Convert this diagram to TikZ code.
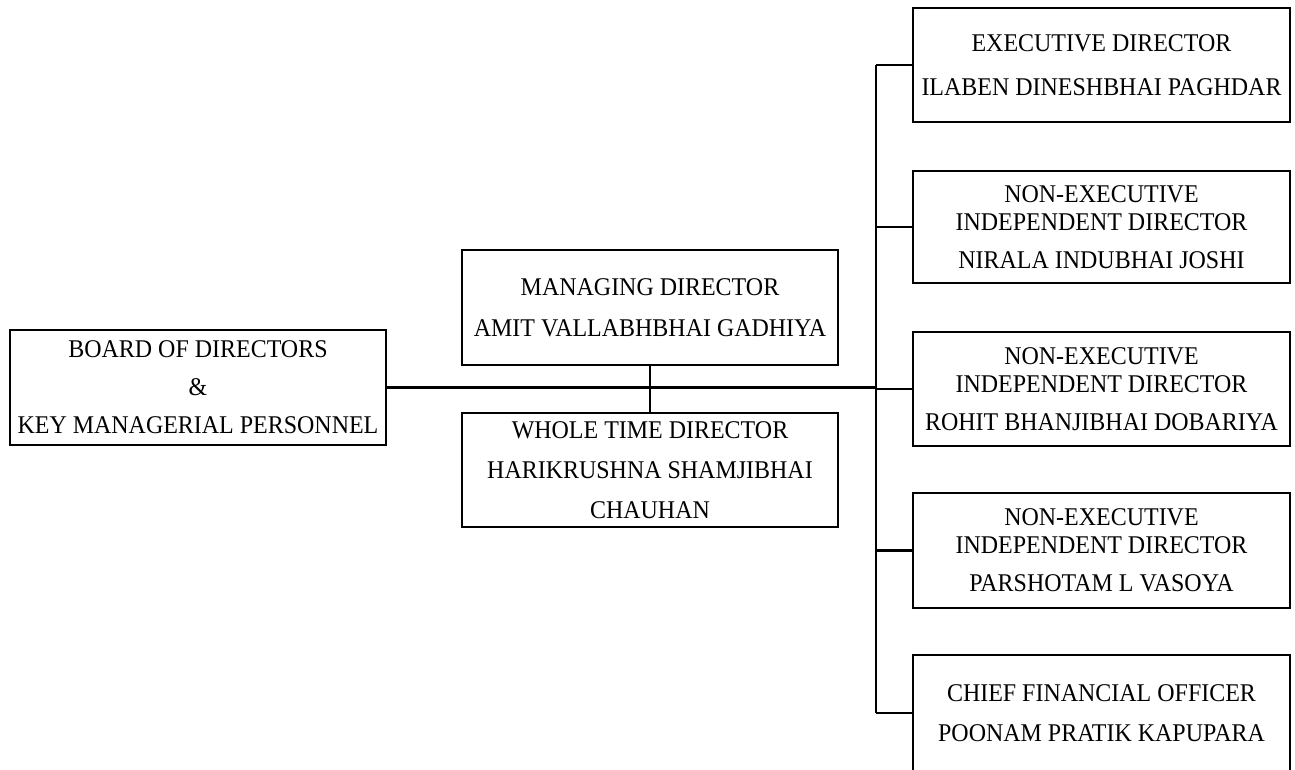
\documentclass[tikz,border=0pt]{standalone}
\usepackage{fontspec}
\setmainfont[FakeStretch=0.94]{Liberation Serif}
\begin{document}
\begin{tikzpicture}[x=1pt,y=-1pt,
  box/.style={draw, line width=2.2pt, inner sep=0pt, align=center,
    font=\fontsize{25.5}{28}\selectfont, minimum width=376pt},
  conn/.style={line width=2.2pt},
  mainconn/.style={line width=3pt}]
\useasboundingbox (0,0) rectangle (1295,769);
\begin{scope}
\clip (0,0) rectangle (1295,769);
\node[box, minimum height=115pt] (board) at (198,387.5) {BOARD OF DIRECTORS\\[10pt]\&\\[10pt]KEY MANAGERIAL PERSONNEL};
\node[box, minimum height=115pt] (md) at (650,307.5) {MANAGING DIRECTOR\\[13pt]AMIT VALLABHBHAI GADHIYA};
\node[box, minimum height=114pt] (wtd) at (650,470) {WHOLE TIME DIRECTOR\\[12pt]HARIKRUSHNA SHAMJIBHAI\\[12pt]CHAUHAN};
\node[box, minimum width=377pt, minimum height=114pt] (ed) at (1101.5,65) {EXECUTIVE DIRECTOR\\[16pt]ILABEN DINESHBHAI PAGHDAR};
\node[box, minimum width=377pt, minimum height=112pt] (ned1) at (1101.5,227) {NON-EXECUTIVE\\INDEPENDENT DIRECTOR\\[10pt]NIRALA INDUBHAI JOSHI};
\node[box, minimum width=377pt, minimum height=114pt] (ned2) at (1101.5,389) {NON-EXECUTIVE\\INDEPENDENT DIRECTOR\\[10pt]ROHIT BHANJIBHAI DOBARIYA};
\node[box, minimum width=377pt, minimum height=115pt] (ned3) at (1101.5,550.5) {NON-EXECUTIVE\\INDEPENDENT DIRECTOR\\[10pt]PARSHOTAM L VASOYA};
\node[box, minimum width=377pt, minimum height=116pt] (cfo) at (1101.5,713) {\raisebox{-6pt}{\parbox{377pt}{\centering CHIEF FINANCIAL OFFICER\\[12pt]POONAM PRATIK KAPUPARA}}};
\coordinate (bt) at (876,65);
\coordinate (bb) at (876,713);
\draw[conn] (bt) -- (bb);
\draw[mainconn] (board.east) -- (board.east -| bt);
\draw[conn] (md.south) -- (wtd.north);
\foreach \n in {ed,ned1,ned2,ned3,cfo}
  \draw[conn] (\n.west) -- (\n.west -| bt);
\end{scope}
\end{tikzpicture}
\end{document}
